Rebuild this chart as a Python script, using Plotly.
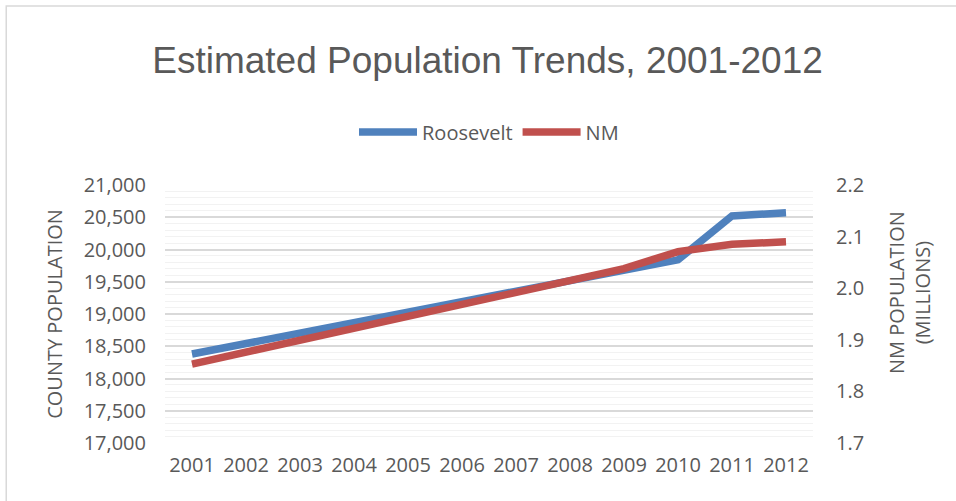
import plotly.graph_objects as go

years = ["2001", "2002", "2003", "2004", "2005", "2006",
         "2007", "2008", "2009", "2010", "2011", "2012"]
roosevelt = [18380, 18540, 18700, 18870, 19030, 19190,
             19350, 19520, 19680, 19840, 20520, 20570]
nm_millions = [1.853, 1.876, 1.899, 1.922, 1.946, 1.969,
               1.992, 2.015, 2.038, 2.071, 2.085, 2.090]

left_ticks = [17000, 17500, 18000, 18500, 19000, 19500, 20000, 20500, 21000]
right_ticks = [1.7, 1.8, 1.9, 2.0, 2.1, 2.2]

text_color = "#595959"
tick_font = dict(family="Open Sans", size=20, color=text_color)

fig = go.Figure()

fig.add_trace(go.Scatter(
    x=years, y=roosevelt, name="Roosevelt", mode="lines",
    line=dict(color="#4f81bd", width=7.5),
))
fig.add_trace(go.Scatter(
    x=years, y=nm_millions, name="NM", mode="lines", yaxis="y2",
    line=dict(color="#c0504d", width=7.5),
))

fig.update_layout(
    width=956, height=501,
    margin=dict(l=165, r=143, t=185, b=58),
    paper_bgcolor="white", plot_bgcolor="white",
    title=dict(
        text="Estimated Population Trends, 2001-2012",
        x=0.51, xanchor="center", y=0.88, yanchor="middle",
        font=dict(family="Liberation Sans", size=37, color=text_color),
    ),
    legend=dict(
        orientation="h", x=0.5, xanchor="center", y=1.205, yanchor="middle",
        font=dict(family="Open Sans", size=20, color=text_color),
        itemwidth=58,
    ),
    xaxis=dict(
        type="category", range=[-0.5, 11.5], tickfont=tick_font,
        showgrid=False, showline=False, ticks="", ticklabelstandoff=8,
    ),
    yaxis=dict(
        range=[17000, 21000], tickvals=left_ticks, tickformat=",d",
        tickfont=tick_font, ticklabelstandoff=18,
        title=dict(text="COUNTY POPULATION",
                   font=dict(family="Open Sans", size=20, color=text_color),
                   standoff=15),
        showgrid=True, gridcolor="#d9d9d9", gridwidth=1.5,
        minor=dict(dtick=100, showgrid=True, gridcolor="#f2f2f2", gridwidth=1),
        zeroline=False, showline=False, ticks="",
    ),
    yaxis2=dict(
        overlaying="y", side="right",
        range=[1.7, 2.2], tickvals=right_ticks, tickformat=".1f",
        tickfont=tick_font, ticklabelstandoff=22,
        showgrid=False, zeroline=False, showline=False, ticks="",
    ),
    annotations=[dict(
        text="NM POPULATION<br>(MILLIONS)", textangle=-90,
        xref="paper", yref="paper", x=1.148, y=0.585,
        xanchor="center", yanchor="middle", showarrow=False,
        font=dict(family="Open Sans", size=20, color=text_color),
    )],
    shapes=[dict(
        type="rect", xref="paper", yref="paper",
        x0=-0.245, x1=1.23, y0=-0.25, y1=1.694,
        line=dict(color="#d9d9d9", width=1.5), layer="below",
    )],
)

fig.write_html("out.html", config={"displayModeBar": False},
               post_script="document.body.style.margin='0';")
